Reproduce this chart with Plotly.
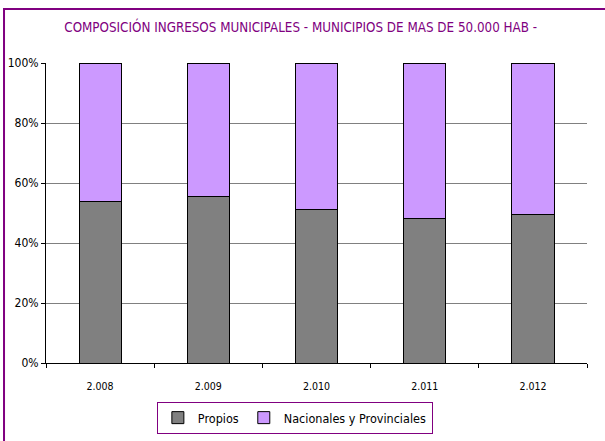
import plotly.graph_objects as go

years = ["2.008", "2.009", "2.010", "2.011", "2.012"]
propios = [53.9, 55.5, 51.2, 48.2, 49.4]
nacionales = [100 - v for v in propios]
y_ticks = [0, 20, 40, 60, 80, 100]
y_labels = ["0%", "20%", "40%", "60%", "80%", "100%"]

FONT = "DejaVu Sans Condensed, DejaVu Sans, sans-serif"

fig = go.Figure()
fig.add_trace(go.Bar(x=years, y=propios, name="Propios",
                     marker=dict(color="#808080", line=dict(color="#000000", width=1))))
fig.add_trace(go.Bar(x=years, y=nacionales, name="Nacionales y Provinciales",
                     marker=dict(color="#CC99FF", line=dict(color="#000000", width=1))))

frame = dict(color="#800080", width=2)
fig.update_layout(
    width=605, height=441,
    barmode="stack", bargap=0.61,
    paper_bgcolor="white", plot_bgcolor="white",
    margin=dict(l=46, r=18, t=63, b=78, autoexpand=False),
    font=dict(family=FONT, color="#000000"),
    title=dict(text="COMPOSICIÓN INGRESOS MUNICIPALES - MUNICIPIOS DE MAS DE 50.000 HAB -",
               x=0.497, xanchor="center", y=0.937, yanchor="middle",
               font=dict(family=FONT, size=13.3, color="#800080")),
    xaxis=dict(showline=True, linecolor="#000000", linewidth=1, automargin=False,
               ticks="outside", tickson="boundaries", ticklen=4, tickcolor="#000000",
               ticklabelstandoff=13,
               tickfont=dict(size=10.5, family=FONT), showgrid=False),
    yaxis=dict(range=[0, 100], tickvals=y_ticks, ticktext=y_labels, automargin=False,
               showline=True, linecolor="#000000", linewidth=1,
               ticks="outside", ticklen=4, tickcolor="#000000",
               showgrid=True, gridcolor="#808080", gridwidth=1,
               tickfont=dict(size=12, family=FONT), zeroline=False),
    legend=dict(orientation="h", x=0.46, xanchor="center", y=-0.13, yanchor="top",
                bordercolor="#800080", borderwidth=1, bgcolor="white",
                font=dict(size=12.5, family=FONT), traceorder="normal",
                itemwidth=30),
    shapes=[
        dict(type="rect", xref="paper", yref="paper", x0=-0.0776, x1=1.1, y0=-0.5, y1=1.18,
             line=frame, fillcolor="rgba(0,0,0,0)", layer="above"),
    ],
)

fig.write_html("out.html", config={"displayModeBar": False},
               post_script="document.body.style.margin='0px';")
